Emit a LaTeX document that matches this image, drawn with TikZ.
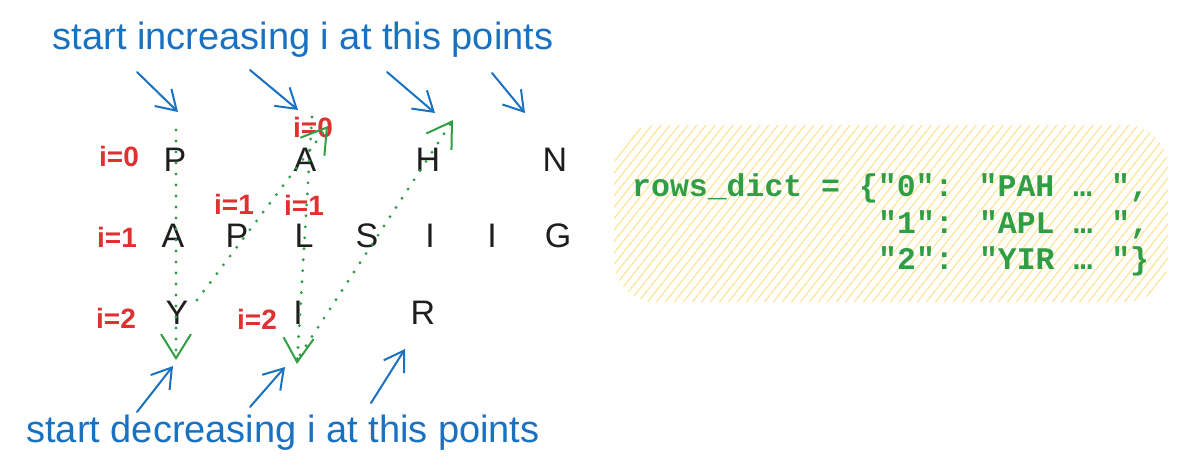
\documentclass[tikz,border=0pt]{standalone}
\usepackage{fontspec}
\setmainfont{Liberation Sans}
\newfontfamily\codefont{Liberation Mono}
\usepackage{xcolor}
\definecolor{zzxanh}{HTML}{1971C2}
\definecolor{zzdo}{HTML}{E03131}
\definecolor{zzluc}{HTML}{2F9E44}
\definecolor{zzvang}{HTML}{FFE08A}
\definecolor{zzden}{HTML}{1E1E1E}
\def\maughichu{zzxanh}
\def\mauchiso{zzdo}
\def\mauduong{zzluc}
\usepackage{tikz}
\usetikzlibrary{arrows.meta}
\tikzset{
	chu/.style={font=\fontsize{34}{38}\selectfont, text=zzden, inner sep=0pt},
	chiso/.style={font=\bfseries\fontsize{28}{32}\selectfont, text=\mauchiso, inner sep=0pt},
	ghichu/.style={font=\fontsize{38}{42}\selectfont, text=\maughichu, inner sep=0pt},
	dongma/.style={font=\codefont\bfseries\fontsize{31.5}{36}\selectfont, text=\mauduong, inner sep=0pt, anchor=base west},
	muiten/.style={draw=\maughichu, line width=2pt, line cap=round, -{Straight Barb[length=19pt, width=24pt, line width=2pt]}},
	duongcham/.style={draw=\mauduong, line width=3.2pt, line cap=round, dash pattern=on 0pt off 11pt, -{Straight Barb[length=24pt, width=30pt, line width=2pt]}},
	gach/.style={draw=zzvang, line width=1pt}
}
\begin{document}
\begin{tikzpicture}[x=1pt, y=-1pt]
		\useasboundingbox (0,0) rectangle (1186,474);
		% hatched box
		\begin{scope}
			\clip[rounded corners=42pt] (614,125) rectangle (1168,302);
			\foreach \x in {470,479,...,1200} \draw[gach] (\x,310) -- ++(150,-190);
		\end{scope}
		\path (632,196) node[dongma] (d0) {rows\_dict = \{"0": "PAH … ",}
		(878,233) node[dongma] (d1) {"1": "APL … ",}
		(878,269) node[dongma] (d2) {"2": "YIR … "\}};
		% letters
		\path (175,160) node[chu] (p0) {P}
		(305,160) node[chu] (a0) {A}
		(428,160) node[chu] (h0) {H}
		(555,160) node[chu] (n0) {N}
		(173,236) node[chu] (a1) {A}
		(237,236) node[chu] (p1) {P}
		(304,236) node[chu] (l1) {L}
		(367,236) node[chu] (s1) {S}
		(430,236) node[chu] (i1) {I}
		(492,236) node[chu] (j1) {I}
		(558,236) node[chu] (g1) {G}
		(177,313) node[chu] (y2) {Y}
		(298,313) node[chu] (i2) {I}
		(423,313) node[chu] (r2) {R};
		\path (119,156) node[chiso] (k0) {i=0}
		(117,237) node[chiso] (k1) {i=1}
		(116,318) node[chiso] (k2) {i=2}
		(313,127) node[chiso] (ka) {i=0}
		(234,204) node[chiso] (kp) {i=1}
		(304,205) node[chiso] (kl) {i=1}
		(257,319) node[chiso] (ki) {i=2};
		% zigzag
		\path (176,130) coordinate (g1a) (176,360) coordinate (g1b)
		(197,300) coordinate (g2a) (328,126) coordinate (g2b)
		(312,117) coordinate (g3a) (297,364) coordinate (g3b)
		(300,355) coordinate (g4a) (453,120) coordinate (g4b);
		\draw[duongcham] (g1a) -- (g1b);
		\draw[duongcham] (g2a) -- (g2b);
		\draw[duongcham] (g3a) -- (g3b);
		\draw[duongcham] (g4a) -- (g4b);
		% notes
		\path (303,40) node[ghichu] (tren) {start increasing i at this points}
		(283,433) node[ghichu] (duoi) {start decreasing i at this points};
		\path (137,72) coordinate (t1) (178,112) coordinate (u1)
		(250,70) coordinate (t2) (298,110) coordinate (u2)
		(387,72) coordinate (t3) (435,113) coordinate (u3)
		(492,73) coordinate (t4) (525,113) coordinate (u4)
		(137,412) coordinate (b1) (173,366) coordinate (c1)
		(250,407) coordinate (b2) (285,367) coordinate (c2)
		(371,403) coordinate (b3) (405,349) coordinate (c3);
		\foreach \a/\b in {t1/u1,t2/u2,t3/u3,t4/u4,b1/c1,b2/c2,b3/c3}
		\draw[muiten] (\a) -- (\b);
	\end{tikzpicture}
\end{document}
